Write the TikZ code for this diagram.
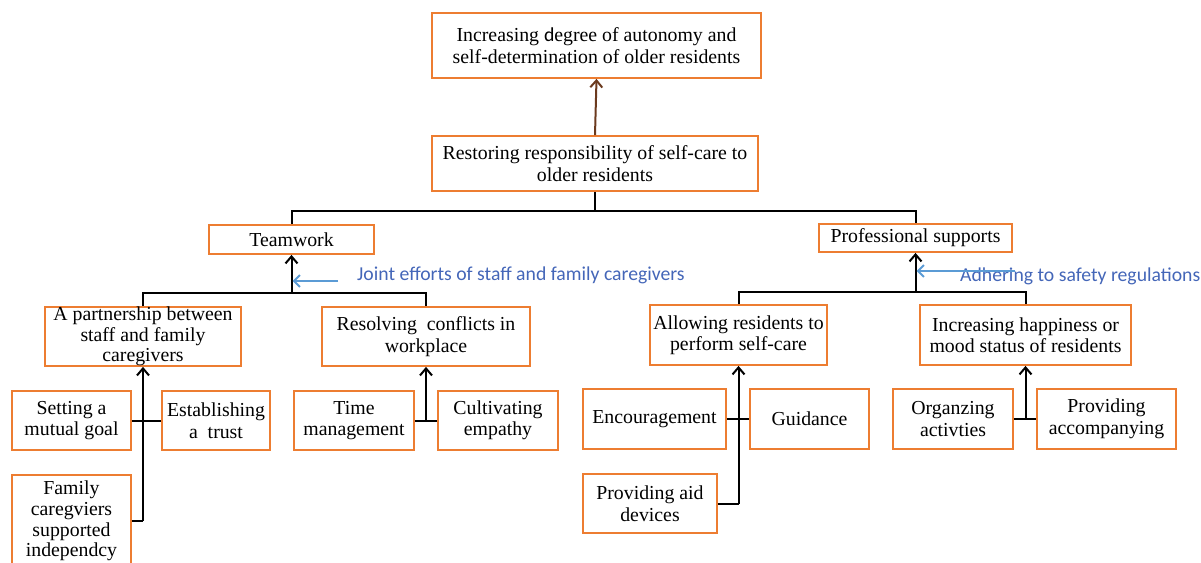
\documentclass[tikz,border=0pt]{standalone}
\usepackage{fontspec}
\setmainfont{Liberation Serif}
\newfontfamily\calfont{Carlito}
\usetikzlibrary{arrows.meta}
\definecolor{boxorange}{HTML}{ED7D31}
\definecolor{labblue}{HTML}{4466B8}
\definecolor{arrblue}{HTML}{5B9BD5}
\definecolor{darkbrown}{HTML}{6B3A1E}
\begin{document}
\begin{tikzpicture}[x=1pt,y=-1pt,
  box/.style={draw=boxorange,line width=1.8pt,inner sep=0pt,align=center,
    font=\fontsize{19.8}{21.5}\selectfont},
  conn/.style={draw=black,line width=2pt},
  arr/.style={conn,-{Straight Barb[length=7pt,width=12pt,line width=2pt]}},
  bluearr/.style={draw=arrblue,line width=2.4pt,-{Straight Barb[length=6pt,width=12pt,line width=2pt]}},
  bluelab/.style={text=labblue,inner sep=0pt,anchor=west,font=\calfont\fontsize{19.7}{21}\selectfont}]
\useasboundingbox (0,0) rectangle (1201,562);
% boxes
\node[box,minimum width=329pt,minimum height=65pt,font=\fontsize{19.8}{22.5}\selectfont] (top) at (596.5,45.5) {Increasing {\calfont d}egree of autonomy and\\self-determination of older residents};
\node[box,minimum width=326pt,minimum height=55pt] (rest) at (595,163.5) {Restoring responsibility of self-care to\\older residents};
\node[box,minimum width=165pt,minimum height=29pt] (team) at (291.5,239.5) {Teamwork};
\node[box,minimum width=193pt,minimum height=28pt] (prof) at (915.5,238) {Professional supports};
\node[box,minimum width=196pt,minimum height=59pt,font=\fontsize{19.8}{20.5}\selectfont] (partner) at (143,336.5) {A partnership between\\staff and family\\caregivers};
\node[box,minimum width=208pt,minimum height=59pt] (resolve) at (426,336.5) {Resolving\ \ conflicts in\\workplace};
\node[box,minimum width=177pt,minimum height=60pt] (allow) at (738.5,335) {Allowing residents to\\perform self-care};
\node[box,minimum width=211pt,minimum height=60pt] (happy) at (1025.5,335) {Increasing happiness or\\mood status of residents};
\node[box,minimum width=119pt,minimum height=59pt] (setting) at (71.5,420.5) {Setting a\\mutual goal};
\node[box,minimum width=108pt,minimum height=59pt] (estab) at (216,420.5) {Establishing\\a\ \ trust};
\node[box,minimum width=119pt,minimum height=92pt,font=\fontsize{19.8}{20.8}\selectfont] (family) at (71.5,521) {Family\\caregviers\\supported\\independcy};
\node[box,minimum width=120pt,minimum height=59pt] (time) at (354,420.5) {Time\\management};
\node[box,minimum width=120pt,minimum height=59pt] (cult) at (498,420.5) {Cultivating\\empathy};
\node[box,minimum width=143pt,minimum height=60pt] (enc) at (654.5,419) {Encouragement};
\node[box,minimum width=119pt,minimum height=60pt] (guid) at (809.5,419) {Guidance};
\node[box,minimum width=134pt,minimum height=59pt] (aid) at (650,503.5) {Providing aid\\devices};
\node[box,minimum width=120pt,minimum height=60pt] (org) at (953,419) {Organzing\\activties};
\node[box,minimum width=139pt,minimum height=60pt] (accomp) at (1106.5,419) {Providing\\accompanying};
% labels
\node[bluelab] (lab1) at (357,275) {Joint efforts of staff and family caregivers};
\node[bluelab] (lab2) at (960,276) {Adhering to safety regulations};
% junction coordinates
\coordinate (j0) at (595,211);
\coordinate (j1) at (291.5,293);
\coordinate (j2) at (915.5,292);
\coordinate (s1) at (143,521);
\coordinate (s3) at (738.5,503.5);
\coordinate (b1) at (338,281);
\coordinate (b2) at (1015,271);
% connectors
\draw[arr,draw=darkbrown] (rest.north) -- (top.south);
\draw[conn] (rest.south) -- (j0) -| (team.north);
\draw[conn] (j0) -| (prof.north);
\draw[arr] (j1) -- (team.south);
\draw[conn] (partner.north) -- (partner.north |- j1) -- (resolve.north |- j1) -- (resolve.north);
\draw[arr] (j2) -- (prof.south);
\draw[conn] (allow.north) -- (allow.north |- j2) -- (happy.north |- j2) -- (happy.north);
\draw[bluearr] (b1) -- ([xshift=1pt]j1 |- b1);
\draw[bluearr] (b2) -- ([xshift=1pt]j2 |- b2);
\draw[conn] (setting.east) -- (estab.west);
\draw[conn] (family.east |- s1) -- (s1);
\draw[arr] (s1) -- (partner.south);
\draw[conn] (time.east) -- (cult.west);
\draw[arr] (resolve.south |- time.east) -- (resolve.south);
\draw[conn] (enc.east) -- (guid.west);
\draw[conn] (aid.east) -- (s3);
\draw[arr] (s3) -- (allow.south);
\draw[conn] (org.east) -- (accomp.west);
\draw[arr] (happy.south |- org.east) -- (happy.south);
\end{tikzpicture}
\end{document}
